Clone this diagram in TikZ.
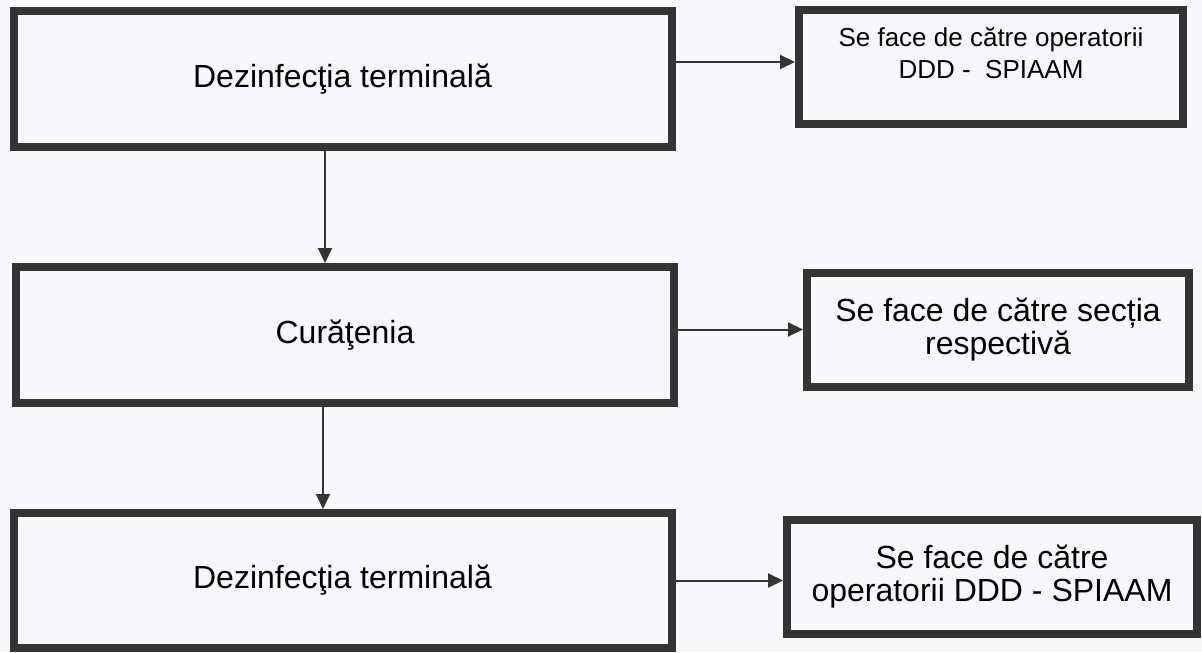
\documentclass[tikz,border=0pt]{standalone}
\usepackage{fontspec}
\setmainfont{Liberation Sans}
\usepackage{xcolor}
\usetikzlibrary{arrows.meta,positioning,calc}
\definecolor{paper}{RGB}{246,248,251}
\definecolor{ink}{RGB}{52,52,52}

\begin{document}
\begin{tikzpicture}[x=0.5pt,y=-0.5pt,font=\fontsize{16}{16.5}\selectfont,
  big/.style={draw=ink,line width=4pt,minimum width=329pt,minimum height=68pt,inner sep=0pt},
  note/.style={draw=ink,line width=4pt,minimum height=57pt,align=center},
  arr/.style={-{Triangle[length=7.5pt,width=7pt]},line width=1pt,draw=ink}]
\useasboundingbox (0,0) rectangle (1202,652);
\fill[paper] (0,0) rectangle (1202,652);
% left column
\node[big] (d1) at (342.5,79) {Dezinfecţia terminală};
\node[big] (cur) at (345,335) {Curăţenia};
\node[big,minimum height=67.5pt] (d2) at (342.5,580.5) {Dezinfecţia terminală};
% right column
\node[note,minimum width=192pt,font=\fontsize{13}{16}\selectfont] (op1) at (991,67) {Se face de către operatorii\\DDD -\ \ SPIAAM\\[-2pt]\mbox{}};
\node[note,minimum width=191pt] (sec) at (998,329.5) {Se face de către secția\\respectivă};
\node[note,minimum width=205pt] (op2) at (992,577) {Se face de către\\operatorii DDD - SPIAAM};
% arrows
\draw[arr] (d1.south -| 325,0) -- (cur.north -| 325,0);
\draw[arr] (cur.south -| 323,0) -- (d2.north -| 323,0);
\draw[arr] ([yshift=8.5pt]d1.east) -- ([yshift=8.5pt]d1.east -| op1.west);
\draw[arr] (sec.west -| cur.east) -- (sec.west);
\draw[arr] (d2.east) -- (d2.east -| op2.west);
\end{tikzpicture}
\end{document}
